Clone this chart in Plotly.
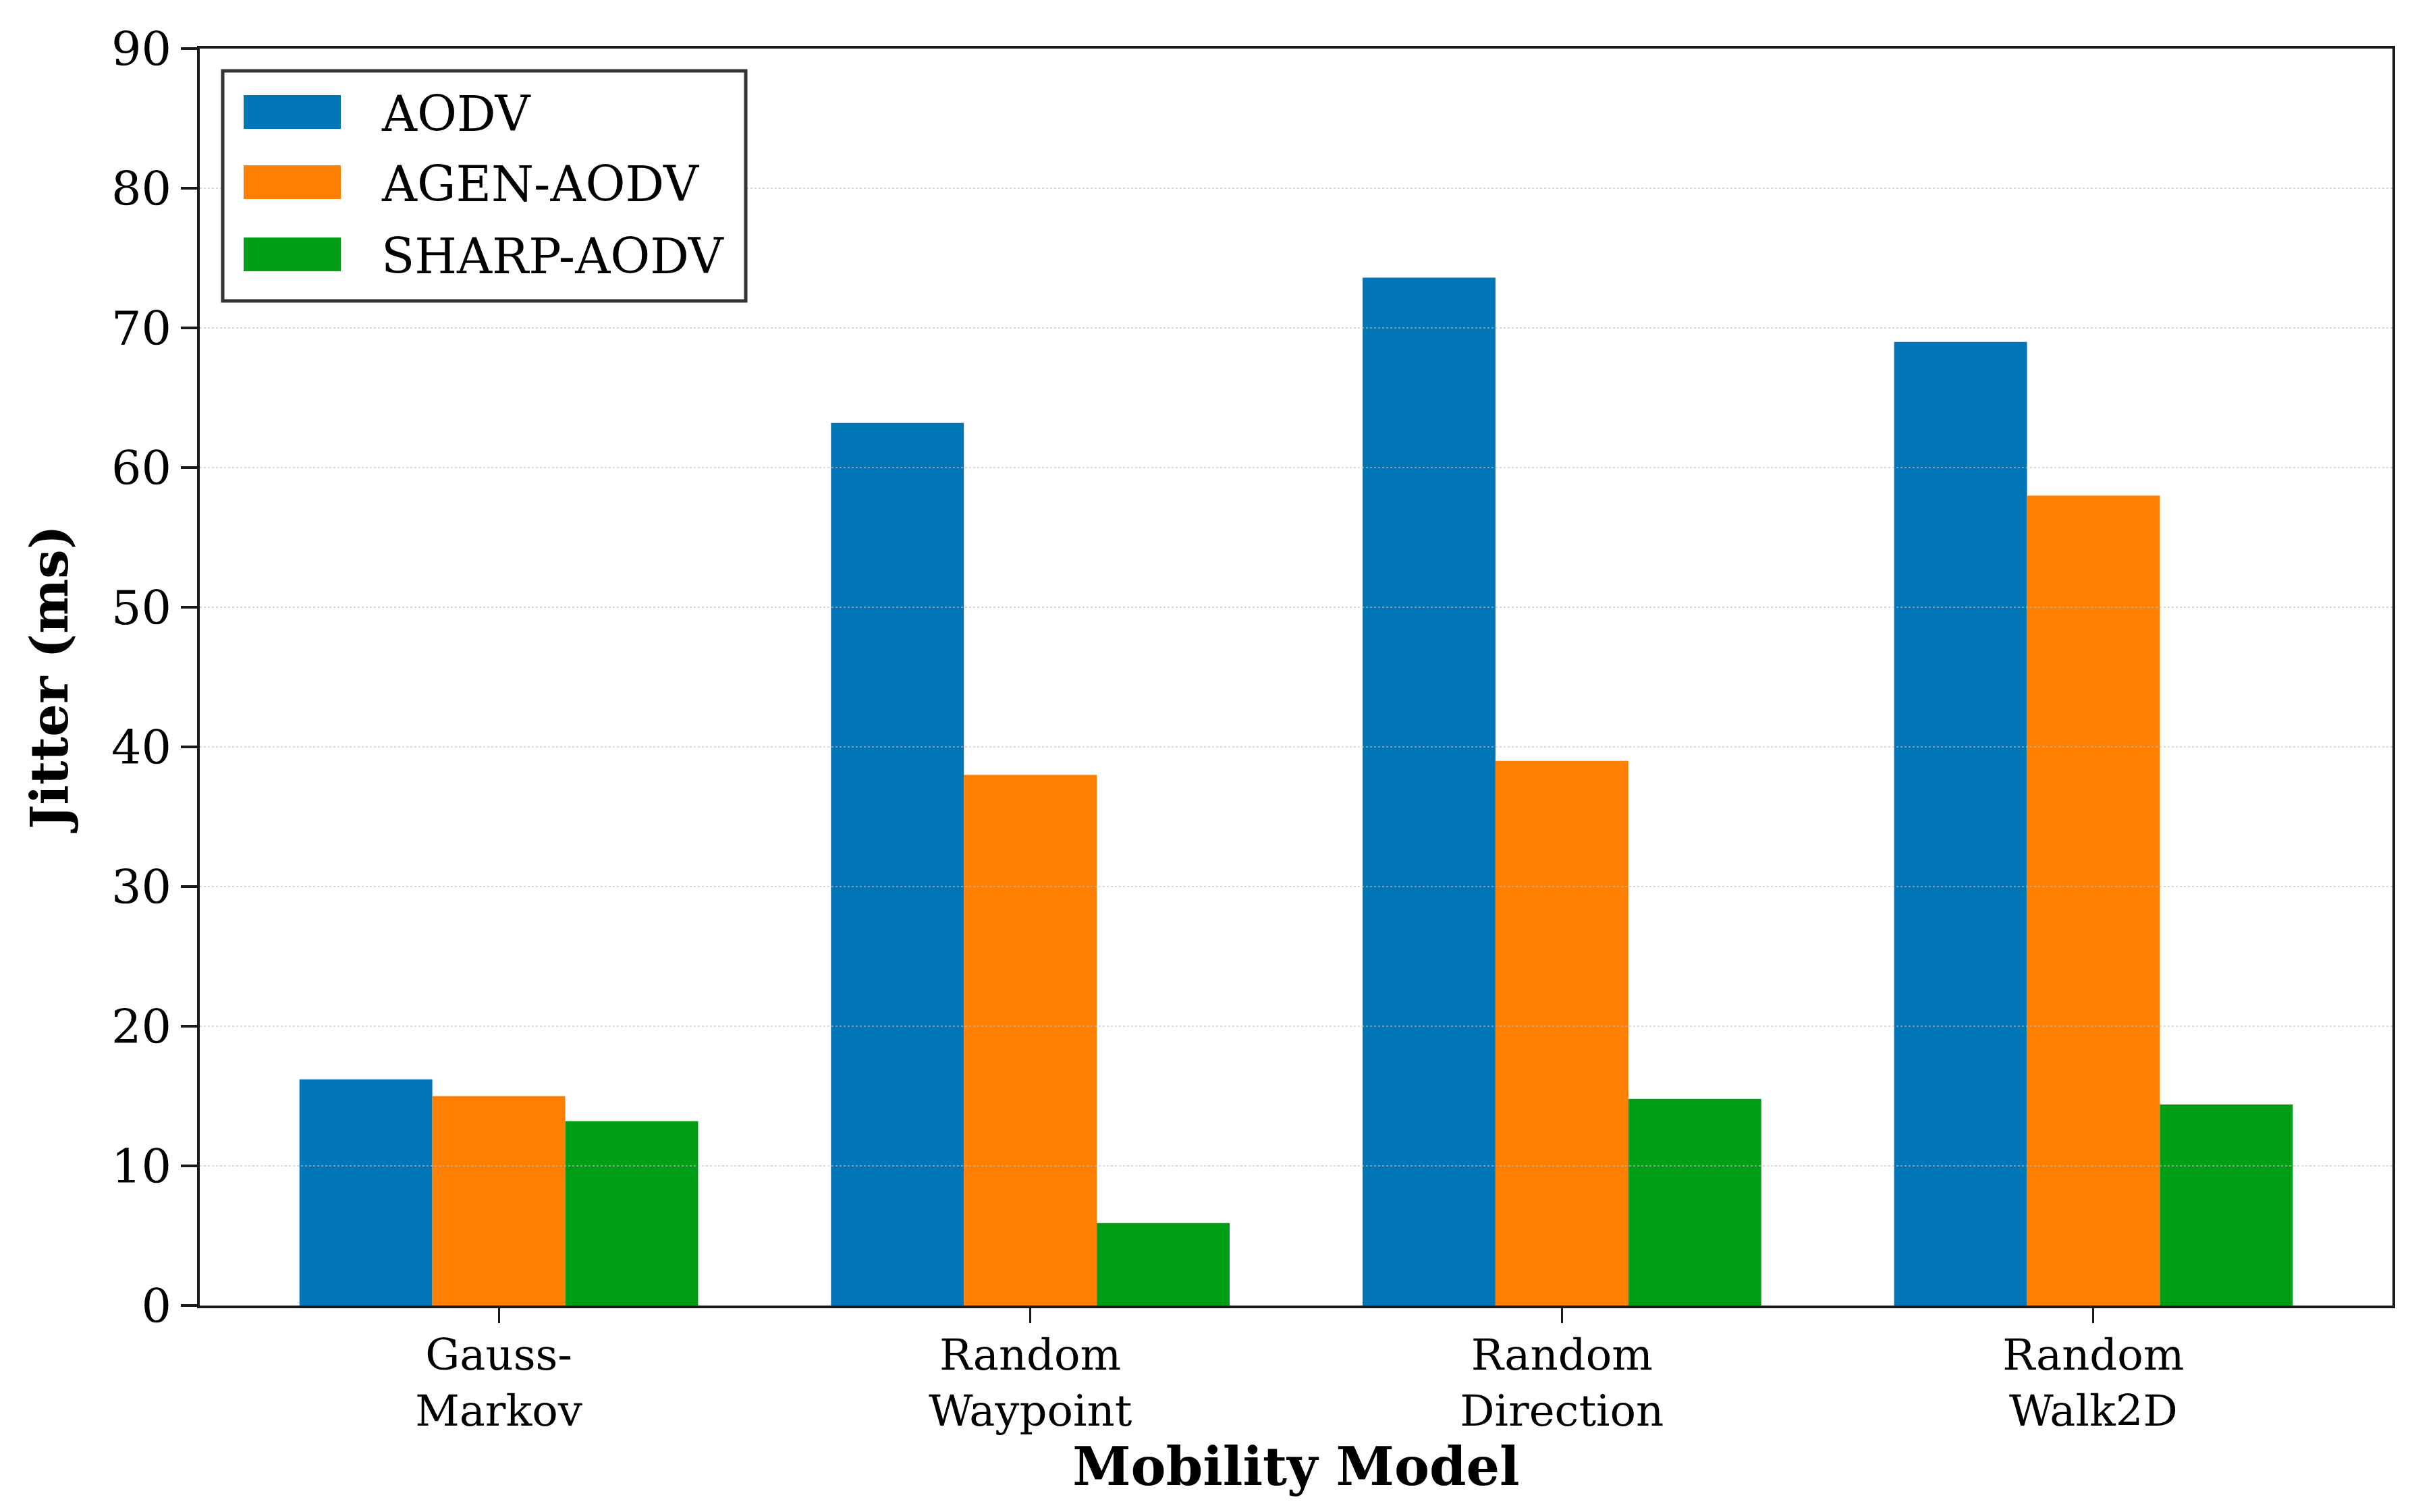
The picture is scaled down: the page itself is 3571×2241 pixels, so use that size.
import plotly.graph_objects as go

categories = ["Gauss-<br>Markov", "Random<br>Waypoint", "Random<br>Direction", "Random<br>Walk2D"]
series_names = ["AODV", "AGEN-AODV", "SHARP-AODV"]
aodv = [16.2, 63.2, 73.6, 69.0]
agen_aodv = [15.0, 38.0, 39.0, 58.0]
sharp_aodv = [13.2, 5.9, 14.8, 14.4]
series_values = [aodv, agen_aodv, sharp_aodv]
colors = ["#0076B6", "#FF8000", "#009E14"]
y_ticks = [0, 10, 20, 30, 40, 50, 60, 70, 80, 90]

W, H = 3571, 2241
ML, MR, MT, MB = 288, 34, 64, 314
FONT = "DejaVu Serif"

fig = go.Figure()
for name, vals, col in zip(series_names, series_values, colors):
    fig.add_trace(go.Bar(
        x=categories, y=vals, name=name,
        marker=dict(color=col, line=dict(width=0)),
        showlegend=False,
    ))

fig.update_layout(
    width=W, height=H,
    margin=dict(l=ML, r=MR, t=MT, b=MB, pad=0),
    paper_bgcolor="white", plot_bgcolor="white",
    barmode="group", bargap=0.25, bargroupgap=0,
    font=dict(family=FONT, color="black", size=66),
)

fig.update_xaxes(
    type="category",
    range=[-0.5625, 3.5625],
    showline=True, mirror=True, linecolor="#1a1a1a", linewidth=4,
    ticks="outside", ticklen=22, tickwidth=3, tickcolor="#1a1a1a",
    tickfont=dict(family=FONT, size=64),
    ticklabelstandoff=-8,
    showgrid=False,
    title=dict(text="<b>Mobility Model</b>", font=dict(family=FONT, size=78), standoff=14),
)
fig.update_yaxes(
    range=[0, 90],
    tickvals=y_ticks,
    showline=True, mirror=True, linecolor="#1a1a1a", linewidth=4,
    ticks="outside", ticklen=24, tickwidth=4, tickcolor="#1a1a1a",
    tickfont=dict(family=FONT, size=70),
    showgrid=False,
    zeroline=False,
    title=dict(text="<b>Jitter (ms)</b>", font=dict(family=FONT, size=77), standoff=40),
)

# Dotted horizontal grid drawn above the bars (as in the reference)
for t in y_ticks[1:-1]:
    fig.add_shape(type="line", xref="paper", yref="y", x0=0, x1=1, y0=t, y1=t,
                  line=dict(color="rgba(190,190,190,0.6)", width=2, dash="dot"),
                  layer="above")

# Manual legend (box, swatches, labels) in paper coordinates
pw = W - ML - MR
ph = H - MT - MB
def px_x(p):
    return (p - ML) / pw
def px_y(p):
    return (H - MB - p) / ph

fig.add_shape(type="rect", xref="paper", yref="paper",
              x0=px_x(322), x1=px_x(1097), y0=px_y(438), y1=px_y(97),
              line=dict(color="#333333", width=5), fillcolor="white", layer="above")
entry_y = [158, 262, 369]
for name, col, cy in zip(series_names, colors, entry_y):
    fig.add_shape(type="rect", xref="paper", yref="paper",
                  x0=px_x(353), x1=px_x(497), y0=px_y(cy + 25), y1=px_y(cy - 25),
                  line=dict(width=0), fillcolor=col, layer="above")
    fig.add_annotation(xref="paper", yref="paper", x=px_x(555), y=px_y(cy + 3),
                       text=name, showarrow=False, xanchor="left", yanchor="middle",
                       font=dict(family=FONT, size=72, color="black"))

fig.write_html("out.html")
